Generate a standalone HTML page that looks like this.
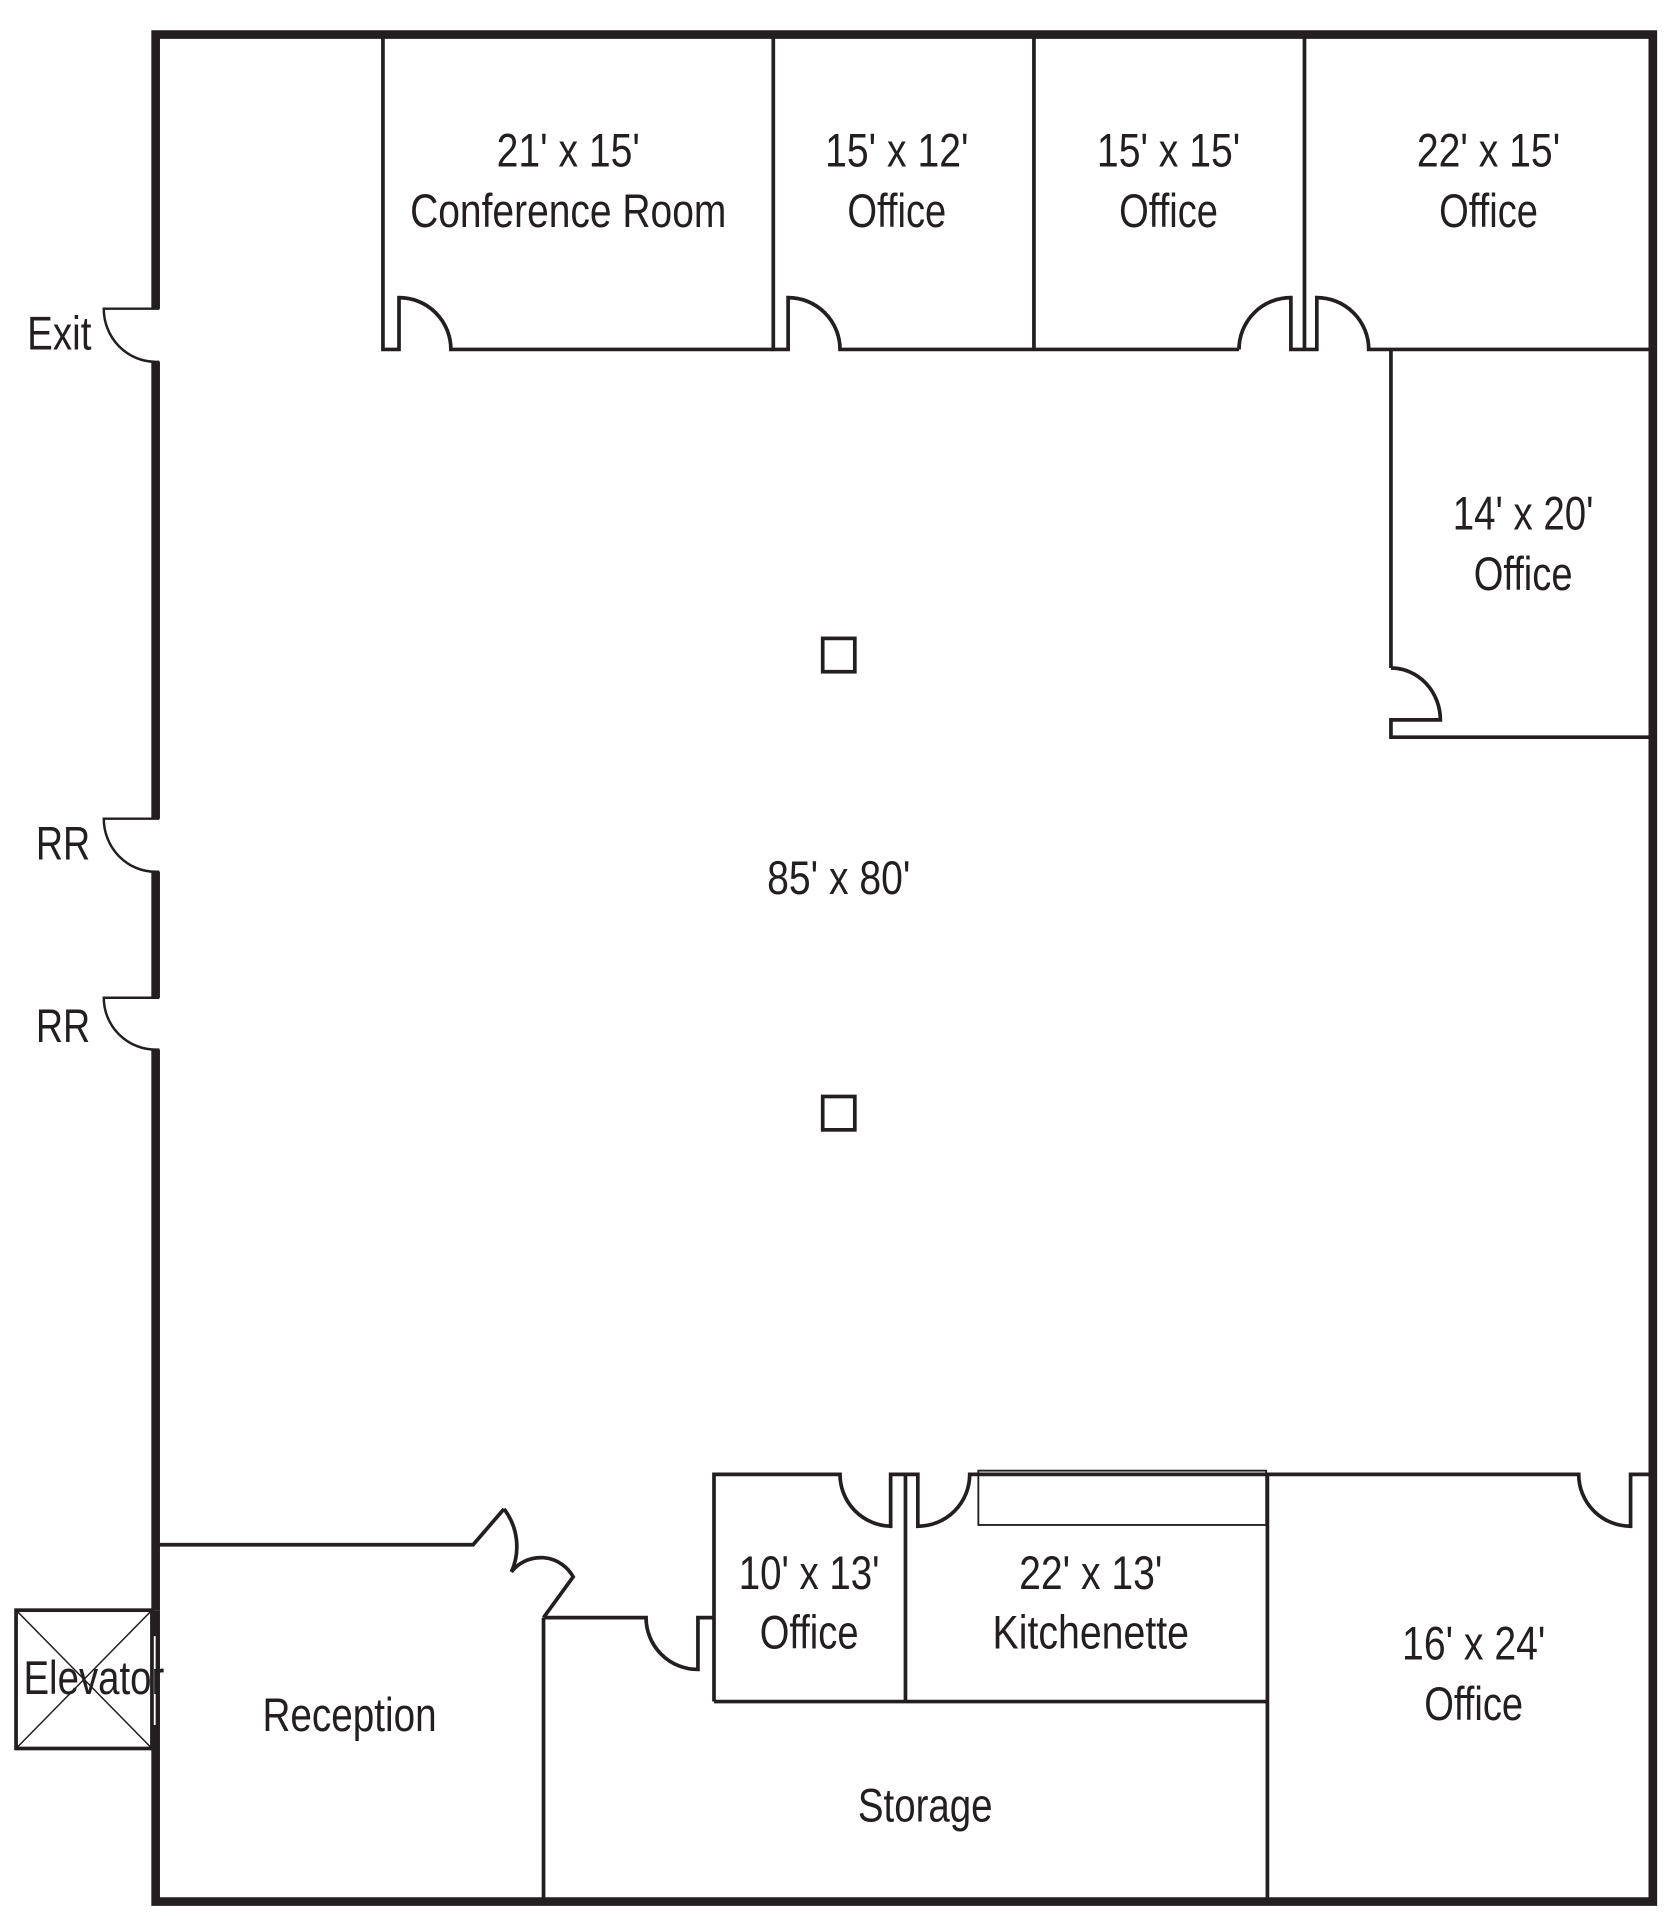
<!DOCTYPE html>
<html><head><style>
html,body{margin:0;padding:0;background:#fff;}
svg{display:block;}
text{font-family:"Liberation Sans",sans-serif;font-size:38px;fill:#231f20;text-anchor:middle;}
</style></head><body>
<svg width="1680" height="1930" viewBox="0 0 1360 1563" preserveAspectRatio="none" xmlns="http://www.w3.org/2000/svg">
<g transform="translate(-2,0)">
<g fill="none" stroke="#231f20" stroke-linecap="butt">
<path d="M128,250 V28 H1340 V1540 H128 V1416" stroke-width="7"/>
<path d="M128,293 V663 M128,706 V808 M128,850 V1304" stroke-width="7"/>
<path d="M128,1304 V1416" stroke-width="7"/>
<rect x="124.5" y="1325" width="3.5" height="72" fill="#fff" stroke="none"/>
<g stroke-width="2">
<path d="M131,250 H86 A42,43 0 0 0 128,293 H131"/>
<path d="M131,663 H86 A42,43 0 0 0 128,706 H131"/>
<path d="M131,808 H86 A42,42 0 0 0 128,850 H131"/>
</g>
<g stroke-width="3">
<path d="M312,28 V283 H325 V241 A42,42 0 0 1 367,283 H628"/>
<path d="M628,28 V283 H640 V241 A42,42 0 0 1 682,283 H839 M839,28 V283 H1005"/>
<path d="M1005,283 A42,42 0 0 1 1047,241 V283 H1058 M1058,28 V283 H1068 V241 A42,42 0 0 1 1110,283 H1340"/>
<path d="M1128,283 V541"/>
<path d="M1128,541 A40,42 0 0 1 1168,583 H1128 V597 H1340"/>
<rect x="668" y="517" width="26" height="27"/>
<rect x="668" y="888" width="26" height="27"/>
<path d="M128,1251 H385 L410,1222"/>
<path d="M410,1222 A50,50 0 0 1 416,1273 A30,30 0 0 1 466,1277 L442,1310"/>
<path d="M442,1310 V1540 M442,1310 H525 A42,42 0 0 0 567,1352 V1310 H580"/>
<path d="M580,1378 V1194 H682 A42,42 0 0 0 723,1236 V1194 H745 V1236 A42,42 0 0 0 787,1194 H1280 A42,42 0 0 0 1322,1236 V1194 H1340"/>
<path d="M735,1194 V1378 M580,1378 H1028 M1028,1194 V1540"/>
</g>
<rect x="794" y="1191" width="233" height="44" stroke-width="1.5"/>
<rect x="15" y="1304" width="110" height="112" stroke-width="3"/>
<path d="M15,1304 L125,1416 M125,1304 L15,1416" stroke-width="1.2"/>
</g>
<g>
<text x="50" y="283" textLength="52" lengthAdjust="spacingAndGlyphs">Exit</text>
<text x="53" y="696" textLength="44" lengthAdjust="spacingAndGlyphs">RR</text>
<text x="53" y="844" textLength="44" lengthAdjust="spacingAndGlyphs">RR</text>
<text x="462" y="135" textLength="116" lengthAdjust="spacingAndGlyphs">21' x 15'</text>
<text x="462" y="184" textLength="256" lengthAdjust="spacingAndGlyphs">Conference Room</text>
<text x="728" y="135" textLength="116" lengthAdjust="spacingAndGlyphs">15' x 12'</text>
<text x="728" y="184" textLength="80" lengthAdjust="spacingAndGlyphs">Office</text>
<text x="948" y="135" textLength="116" lengthAdjust="spacingAndGlyphs">15' x 15'</text>
<text x="948" y="184" textLength="80" lengthAdjust="spacingAndGlyphs">Office</text>
<text x="1207" y="135" textLength="116" lengthAdjust="spacingAndGlyphs">22' x 15'</text>
<text x="1207" y="184" textLength="80" lengthAdjust="spacingAndGlyphs">Office</text>
<text x="1235" y="429" textLength="114" lengthAdjust="spacingAndGlyphs">14' x 20'</text>
<text x="1235" y="478" textLength="80" lengthAdjust="spacingAndGlyphs">Office</text>
<text x="681" y="724" textLength="116" lengthAdjust="spacingAndGlyphs">85' x 80'</text>
<text x="657" y="1287" textLength="114" lengthAdjust="spacingAndGlyphs">10' x 13'</text>
<text x="657" y="1335" textLength="80" lengthAdjust="spacingAndGlyphs">Office</text>
<text x="885" y="1287" textLength="116" lengthAdjust="spacingAndGlyphs">22' x 13'</text>
<text x="885" y="1335" textLength="159" lengthAdjust="spacingAndGlyphs">Kitchenette</text>
<text x="1195" y="1344" textLength="116" lengthAdjust="spacingAndGlyphs">16' x 24'</text>
<text x="1195" y="1393" textLength="80" lengthAdjust="spacingAndGlyphs">Office</text>
<text x="285" y="1402" textLength="141" lengthAdjust="spacingAndGlyphs">Reception</text>
<text x="751" y="1475" textLength="109" lengthAdjust="spacingAndGlyphs">Storage</text>
<text x="78" y="1372" textLength="114" lengthAdjust="spacingAndGlyphs">Elevator</text>
</g>
</g>
</svg>
</body></html>
